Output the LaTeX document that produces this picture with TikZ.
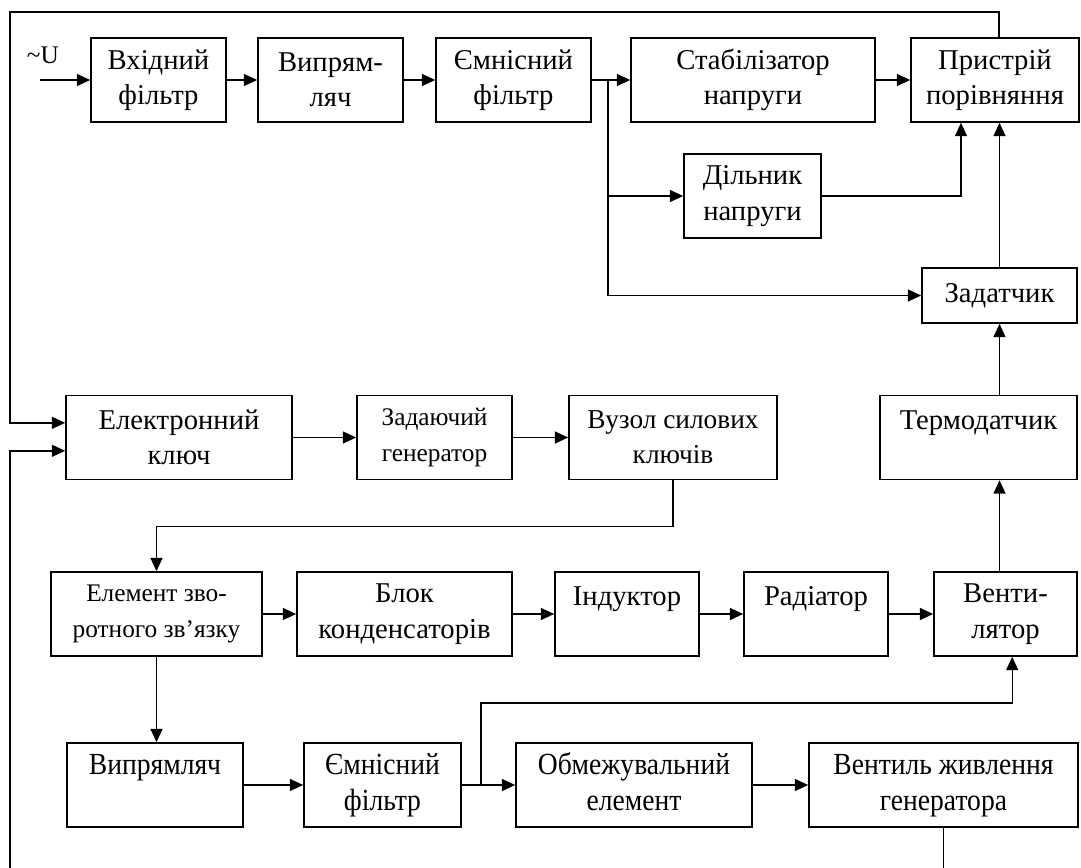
\documentclass[tikz,border=0pt]{standalone}
\usepackage{fontspec}
\setmainfont{Liberation Serif}
\usepackage{graphicx}
\usetikzlibrary{arrows.meta}
\newcommand{\narrowtxt}[1]{\scalebox{0.9}[1]{\begin{tabular}{@{}c@{}}#1\end{tabular}}}

\begin{document}
\begin{tikzpicture}[x=0.75pt, y=-0.75pt,
    unit/.style ={rectangle, draw, line width=1.2pt, inner sep=0pt, minimum height=63pt,
                  align=center, font=\fontsize{21.5}{26.5}\selectfont},
    small/.style ={font=\fontsize{19}{26.5}\selectfont},
    narrow/.style ={font=\fontsize{23}{27.5}\selectfont},
    link/.style ={draw, line width=1pt, -{Triangle[length=10pt,width=9pt]}}]
   \useasboundingbox (0,0) rectangle (1081,867);
   \clip (0,0) rectangle (1081,867);

   \node (U) [font=\fontsize{19}{22}\selectfont] at (43,55) {\textasciitilde U};
   \node[unit, minimum width=101.25pt] (A) at (158.5,80) {Вхідний\\фільтр};
   \node[unit, minimum width=108.75pt] (B) at (330.5,80) {Випрям-\\ляч};
   \node[unit, minimum width=116.25pt] (C) at (513.5,80) {Ємнісний\\фільтр};
   \node[unit, minimum width=183pt]    (D) at (753,80)   {Стабілізатор\\напруги};
   \node[unit, minimum width=126pt]    (E) at (995,80)   {Пристрій\\порівняння};
   \node[unit, minimum width=102.75pt] (F) at (752.5,196) {Дільник\\напруги};
   \node[unit, minimum width=116.25pt, minimum height=41.25pt] (G) at (999.5,295.5) {Задатчик};

   \node[unit, minimum width=169.5pt]  (H) at (179,437.5)   {Електронний\\ключ};
   \node[unit, small, minimum width=116.25pt] (I) at (434.5,437.5) {Задаючий\\генератор};
   \node[unit, minimum width=156pt, font=\fontsize{20.5}{26.5}\selectfont] (J) at (673,437.5) {Вузол силових\\ключів};
   \node[unit, minimum width=147.75pt] (K) at (978.5,437.5) {Термодатчик\\\mbox{}};

   \node[unit, small, minimum width=158.25pt] (L) at (156.5,614) {Елемент зво-\\ротного зв’язку};
   \node[unit, minimum width=161.25pt] (M) at (404.5,614) {Блок\\конденсаторів};
   \node[unit, minimum width=108pt]    (N) at (627,614)   {Індуктор\\\mbox{}};
   \node[unit, minimum width=108pt]    (O) at (816,614)   {Радіатор\\\mbox{}};
   \node[unit, minimum width=107.25pt] (P) at (1005.5,614) {Венти-\\лятор};

   \node[unit, narrow, minimum width=132pt]    (Q) at (155,785)   {\narrowtxt{Випрямляч\\\mbox{}}};
   \node[unit, narrow, minimum width=117.75pt] (R) at (382.5,785) {\narrowtxt{Ємнісний\\фільтр}};
   \node[unit, narrow, minimum width=177pt]    (S) at (634,785)   {\narrowtxt{Обмежувальний\\елемент}};
   \node[unit, narrow, minimum width=201.75pt] (T) at (943.5,785) {\narrowtxt{Вентиль живлення\\генератора}};

   \coordinate (in) at (40,80);
   \coordinate (j1) at (608,80);
   \coordinate (j2) at (481,785);

   \draw[link] (in) -- (A);
   \draw[link] (A) -- (B);
   \draw[link] (B) -- (C);
   \draw[link] (C) -- (D);
   \draw[link] (D) -- (E);
   \draw[link] (j1) |- (F);
   \draw[link] (j1) |- (G);
   \draw[link] (F.east) -| ([xshift=-25.5pt]E.south);
   \draw[link] (G.north) -- (G.north |- E.south);
   \draw[link] ([xshift=3pt]E.north) |- (10,12) |- ([yshift=11pt]H.west);

   \draw[link] (H) -- (I);
   \draw[link] (I) -- (J);
   \draw[link] (J.south) -- ++(0,46) -| (L.north);
   \draw[link] (K.north -| G) -- (G.south);

   \draw[link] (L) -- (M);
   \draw[link] (M) -- (N);
   \draw[link] (N) -- (O);
   \draw[link] (O) -- (P);
   \draw[link] (P.north -| G) -- (K.south -| G);
   \draw[link] (L.south) -- (Q.north -| L.south);

   \draw[link] (Q) -- (R);
   \draw[link] (R) -- (S);
   \draw[link] (S) -- (T);
   \draw[link] (j2) -- ++(0,-82) -| ([xshift=5pt]P.south);
   \draw[link] (T.south) |- (10,900) |- ([yshift=-10pt]H.west);
 \end{tikzpicture}
\end{document}
